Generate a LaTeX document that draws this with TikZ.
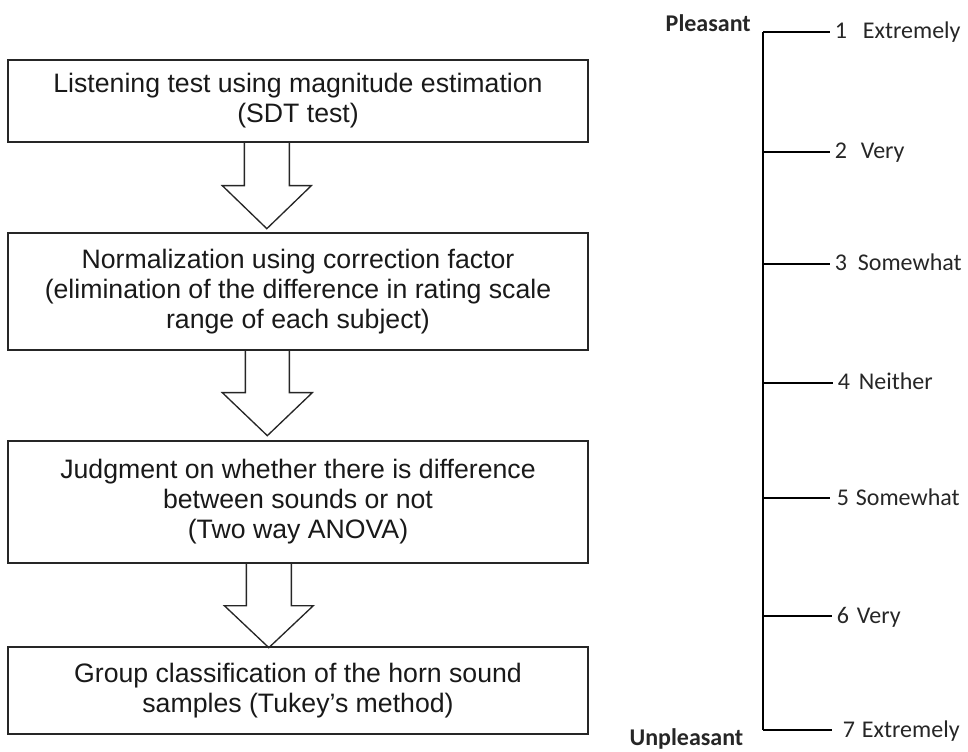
\documentclass[tikz,border=0pt]{standalone}
\usepackage{fontspec}
\setmainfont{Liberation Sans}
\newfontfamily\calibrifont{Carlito}
\usetikzlibrary{calc}
\begin{document}
\begin{tikzpicture}[x=0.75pt,y=-0.75pt,
  stepbox/.style={draw=black!85, line width=1pt, minimum width=435pt, inner sep=0pt,
    align=center, font=\fontsize{20}{22.5}\selectfont, text=black!90},
  blk/.style={draw=black!85, line width=1pt, line join=miter},
  scaleline/.style={draw=black, line width=1pt},
  lab/.style={anchor=base west, inner sep=0pt, xshift=3.5pt, yshift=-5.25pt,
    font=\calibrifont\fontsize{18}{20}\selectfont, text=black!85},
  endlab/.style={anchor=base east, inner sep=0pt,
    font=\calibrifont\bfseries\fontsize{18}{20}\selectfont, text=black!85}]
\useasboundingbox (0,0) rectangle (968,752);

% flow boxes
\node[stepbox, minimum height=61.5pt] (b1) at (298,101)
  {Listening test using magnitude estimation\\(SDT test)};
\node[stepbox, minimum height=87.75pt] (b2) at (298,291.5)
  {Normalization using correction factor\\(elimination of the difference in rating scale\\range of each subject)};
\node[stepbox, minimum height=91.5pt] (b3) at (298,502)
  {Judgment on whether there is difference\\between sounds or not\\(Two way ANOVA)};
\node[stepbox, minimum height=65.25pt] (b4) at (298,690.5)
  {Group classification of the horn sound\\samples (Tukey’s method)};

% block arrows
\draw[blk] ($(b1.south west)+(237,0)$) -- ++(0,43) -- ++(-22,0) -- ++(44.5,43)
  -- ++(44.5,-43) -- ++(-22,0) -- ++(0,-43);
\draw[blk] ($(b2.south west)+(238,0)$) -- ++(0,42) -- ++(-23,0) -- ++(45,43)
  -- ++(45,-43) -- ++(-23,0) -- ++(0,-42);
\draw[blk] ($(b3.south west)+(239,0)$) -- ++(0,42) -- ++(-22,0) -- ++(44.5,42)
  -- ++(44.5,-42) -- ++(-22,0) -- ++(0,-42);

% rating scale
\coordinate (s1) at (763,32);
\coordinate (s2) at (763,152);
\coordinate (s3) at (763,264);
\coordinate (s4) at (763,383);
\coordinate (s5) at (763,498);
\coordinate (s6) at (763,616);
\coordinate (s7) at (763,730);
\coordinate (e1) at (830,32);
\coordinate (e2) at (830,152);
\coordinate (e3) at (830,264);
\coordinate (e4) at (833,383);
\coordinate (e5) at (830,498);
\coordinate (e6) at (832,616);
\coordinate (e7) at (832,730);

\draw[scaleline] (s1) -- (s7);
\foreach \i in {1,...,7} { \draw[scaleline] (s\i) -- (e\i); }

\node[lab] (t1) at (e1) {1\hspace*{11.8pt}Extremely};
\node[lab] (t2) at (e2) {2\hspace*{10.3pt}Very};
\node[lab] (t3) at (e3) {3\hspace*{8.1pt}Somewhat};
\node[lab] (t4) at (e4) {4\hspace*{6.6pt}Neither};
\node[lab,xshift=1.5pt] (t5) at (e5) {5\hspace*{5.1pt}Somewhat};
\node[lab] (t6) at (e6) {6\hspace*{5.9pt}Very};
\node[lab,xshift=4.5pt] (t7) at (e7) {7\hspace*{5.1pt}Extremely};

\node[endlab] (pl) at (751,32) {Pleasant};
\node[endlab] (un) at (743.5,745) {Unpleasant};
\end{tikzpicture}
\end{document}
